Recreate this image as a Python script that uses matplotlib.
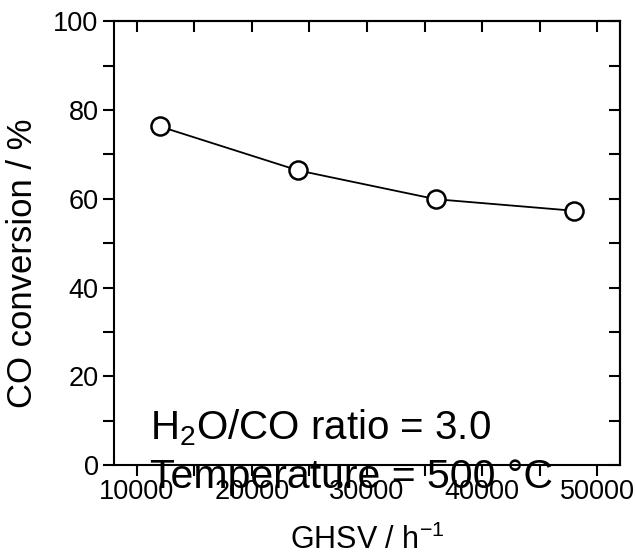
import numpy as np
import matplotlib.pyplot as plt
from matplotlib.ticker import MultipleLocator

plt.rcParams['font.family'] = ['Liberation Sans', 'DejaVu Sans']

# WGS activity vs space velocity
ghsv = [12000, 24000, 36000, 48000]
co_conversion = [76.3, 66.4, 59.9, 57.3]

fig = plt.figure(figsize=(6.36, 5.59), dpi=100)
ax = fig.add_axes([0.179, 0.168, 0.796, 0.794])

ax.plot(ghsv, co_conversion, '-', color='black', linewidth=1.3, zorder=2)
ax.plot(ghsv, co_conversion, 'o', markersize=13, markerfacecolor='white',
        markeredgecolor='black', markeredgewidth=1.8, zorder=3)

ax.set_xlim(8000, 52000)
ax.set_ylim(0, 100)
ax.xaxis.set_major_locator(MultipleLocator(10000))
ax.xaxis.set_minor_locator(MultipleLocator(5000))
ax.yaxis.set_major_locator(MultipleLocator(20))
ax.yaxis.set_minor_locator(MultipleLocator(10))

for s in ax.spines.values():
    s.set_linewidth(1.5)

# bottom/left ticks point out, top/right point in (origin style)
ax.tick_params(which='both', direction='out', length=8, width=1.5,
               labelsize=19.5, pad=3, top=False, right=False)
ax.tick_params(axis='x', which='both', pad=2)

ax2 = ax.secondary_xaxis('top')
ax2.xaxis.set_major_locator(MultipleLocator(5000))
ax2.tick_params(direction='in', length=8, width=1.5, labeltop=False)
ax2.spines['top'].set_linewidth(1.5)
ax3 = ax.secondary_yaxis('right')
ax3.yaxis.set_major_locator(MultipleLocator(10))
ax3.tick_params(direction='in', length=8, width=1.5, labelright=False)
ax3.spines['right'].set_linewidth(1.5)

ax.set_xlabel('GHSV / h$^{\\mathregular{-1}}$', fontsize=22, labelpad=14)
ax.set_ylabel('CO conversion / %', fontsize=25)
ax.yaxis.set_label_coords(-0.148, 0.455)

ax.text(0.072, 0.058, 'H$_{\\mathregular{2}}$O/CO ratio = 3.0',
        transform=ax.transAxes, fontsize=29)
ax.text(0.072, -0.052, 'Temperature = 500 \u00b0C',
        transform=ax.transAxes, fontsize=29.5)

fig.savefig('out.png', dpi=100)
